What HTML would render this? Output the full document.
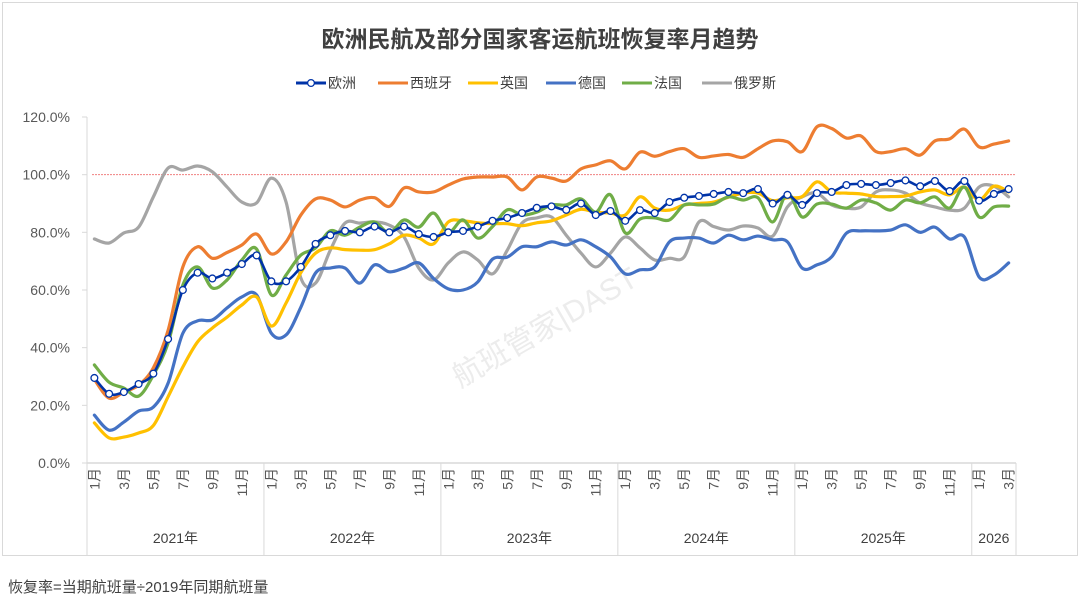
<!DOCTYPE html>
<html><head><meta charset="utf-8"><style>
body{margin:0;background:#fff;width:1080px;height:608px;overflow:hidden;font-family:"Liberation Sans","Noto Sans CJK SC",sans-serif}
svg text{font-family:"Liberation Sans","Noto Sans CJK SC",sans-serif}
</style></head><body>
<svg id="chart" width="1080" height="608" viewBox="0 0 1080 608">
<rect x="2.5" y="2.5" width="1075" height="553" fill="#fff" stroke="#d9d9d9"/>
<text x="540" y="47" text-anchor="middle" font-size="23" font-weight="bold" fill="#404040">欧洲民航及部分国家客运航班恢复率月趋势</text>
<g id="legend"></g>
<g id="axes"></g>
<text x="0" y="0" font-size="30" fill="#ececec" transform="translate(460,388) rotate(-30)">航班管家|DAST</text>
<g id="series"></g>
<text x="8" y="592" font-size="15" fill="#404040">恢复率=当期航班量÷2019年同期航班量</text>
</svg>
<script>
const years = ["2021年","2022年","2023年","2024年","2025年","2026"];
const monthsPerYear = [12,12,12,12,12,3];
const yTicks = [0,20,40,60,80,100,120];
const seriesNames = ["欧洲","西班牙","英国","德国","法国","俄罗斯"];
const europe = [29.5,24,24.6,27.4,31,43,60,66,64,66,69,72, 63,63,68,76,79,80.5,80,82,80,82,79.4,78.4, 80,80.5,82,84,85,86.7,88.5,89,87.8,90,86,87.4, 84,87.7,86.7,90.5,92,92.6,93.3,94,93.6,95,90,93, 89.5,93.6,94,96.4,96.8,96.4,97.1,98,96,97.8,94.3,97.8, 91,93.3,95];
const spain = [29,22.5,24.6,27,33,46,68,75,71,73,75.6,79.4, 72.5,76.7,86,91.6,91.2,88.8,91.2,92,89,95.4,94,94, 96.4,98.5,99.2,99.2,99.2,94.7,99.2,98.8,97.8,102,103.4,104.8, 102,107.8,106.4,108,109,106,106.5,107,106,109,111.7,111.4, 108,116.6,116,112.7,113.4,108,108,109,106.8,111.7,112.4,115.8, 109.6,110.6,111.7];
const uk = [13.9,8.7,9,10.4,13,23,33.3,42,46.8,50.6,54.8,57.6, 47.5,55.5,66,72.8,74.6,74,73.8,74,76,79,78,76, 83.6,84,83.3,83,83,82.3,83.3,84,86,88,87,86.7, 86,92.3,88.4,87.7,89.5,90,90.5,92.2,93.6,93.6,91,92, 92.4,97.5,94,93.6,93.3,92.4,92.4,92.6,94,94.7,93,95.7, 91.2,96,94];
const germany = [16.6,11.4,14.2,18,19.4,27.7,45,49.3,49.6,53.8,57.6,58.3, 45,44.4,54,65.9,67.6,67.6,62.4,68.7,66.3,67.6,69.4,64, 60.4,60,62.8,70.7,71.4,75,75,76.7,75.6,77.4,75,71.5, 65.6,67,68,76.7,78,78,76.3,79,77.4,78.7,77.4,76.7, 67.6,68.7,71.5,79.7,80.5,80.5,80.8,82.6,80,81.8,77.7,78.4, 64.5,65.2,69.4];
const france = [34,28,26,23.2,30.5,41.6,61.7,68,60.7,63.5,70.4,74.2, 58.3,65.2,72.1,74.6,80.5,79,81.8,83.6,79.8,84.3,81.8,86.7, 80,84.3,78,82,87.8,86,87,89.5,89.5,91.6,87,93, 79.8,84.6,85,84.3,89.5,89.5,89.8,92.3,91.2,92,83.6,93.6, 85.3,89.8,89.8,88.4,91.2,90.2,87.7,91.2,90.2,92.3,88.4,95.7, 85.3,88.8,89.1];
const russia = [77.7,76.3,79.8,81.8,92.3,102.3,101.6,103,101,95.7,90.5,90.2, 98.8,90.5,64.2,62.4,73.8,83.2,83.2,83.6,82.5,78.4,67.6,63.5, 69.4,73.2,70.4,65.6,73.8,83.2,85,85.3,79,72.8,68,72.8, 78.4,74.6,70.4,71,71.5,83.6,82,80.8,82.2,81.5,78.7,88.8, 92.3,93.6,89.5,88.4,88.8,94,94.7,93.6,90.2,88.8,87.7,88.4, 95.7,96,92.3];
const colors = ["#0033a8","#ed7d31","#ffc000","#4472c4","#70ad47","#a5a5a5"];
const slugs = ["europe","spain","uk","germany","france","russia"];
const allSeries = [europe,spain,uk,germany,france,russia];

const NS="http://www.w3.org/2000/svg";
const X0=87, X1=1016, Y0=463, Y120=117;
const nMonths = monthsPerYear.reduce((a,b)=>a+b,0);
const mw=(X1-X0)/nMonths;
const xs=i=>X0+mw*(i+0.5);
const ys=v=>Y0-(v/120)*(Y0-Y120);
function mk(tag,attrs,parent){const e=document.createElementNS(NS,tag);for(const k in attrs)e.setAttribute(k,attrs[k]);parent.appendChild(e);return e;}
const axes=document.getElementById('axes');
let yl=mk('line',{x1:X0,y1:Y120,x2:X0,y2:Y0,stroke:'#d9d9d9'},axes);


yTicks.forEach(v=>{
  const t=mk('line',{x1:X0-5,x2:X0,y1:ys(v),y2:ys(v),stroke:'#d9d9d9'},axes);
  
  
  const tx=mk('text',{x:70,y:ys(v)+5,'text-anchor':'end','font-size':14,fill:'#595959'},axes);
  tx.textContent=v.toFixed(1)+'%';
  
  
});
const ref=mk('line',{x1:X0+5,x2:X1,y1:ys(100),y2:ys(100),stroke:'#f08080','stroke-width':1,'stroke-dasharray':'2,1'},axes);


const xl=mk('line',{x1:X0,x2:X1,y1:Y0,y2:Y0,stroke:'#d9d9d9','stroke-width':1.5},axes);


let idx=0;
years.forEach((yr,yi)=>{
  const n=monthsPerYear[yi];
  const xa=X0+mw*idx, xb=X0+mw*(idx+n);
  const d=mk('line',{x1:xa,x2:xa,y1:Y0,y2:556,stroke:'#d9d9d9'},axes);
  
  
  for(let m=0;m<n;m+=2){
    const cx=xs(idx+m);
    const t=mk('text',{x:0,y:0,'font-size':14,fill:'#595959','text-anchor':'end',transform:`translate(${cx+5},468) rotate(-90)`},axes);
    t.textContent=(m+1)+'月';
    
    
  }
  const yt=mk('text',{x:(xa+xb)/2,y:543,'text-anchor':'middle','font-size':14,fill:'#404040'},axes);
  yt.textContent=yr;
  
  
  idx+=n;
});
const de=mk('line',{x1:X1,x2:X1,y1:Y0,y2:556,stroke:'#d9d9d9'},axes);



function smoothPath(pts){
  let d=`M${pts[0][0]},${pts[0][1]}`;
  for(let i=0;i<pts.length-1;i++){
    const p0=pts[i-1]||pts[i],p1=pts[i],p2=pts[i+1],p3=pts[i+2]||p2;
    const c1=[p1[0]+(p2[0]-p0[0])/6,p1[1]+(p2[1]-p0[1])/6];
    const c2=[p2[0]-(p3[0]-p1[0])/6,p2[1]-(p3[1]-p1[1])/6];
    d+=` C${c1[0]},${c1[1]} ${c2[0]},${c2[1]} ${p2[0]},${p2[1]}`;
  }
  return d;
}
const sg=document.getElementById('series');
const order=[5,3,2,1,4,0];
order.forEach(si=>{
  const data=allSeries[si];
  const pts=data.map((v,i)=>[xs(i),ys(v)]);
  const p=mk('path',{d:smoothPath(pts),fill:'none',stroke:colors[si],'stroke-width':si===0?2.6:3.2,'stroke-linejoin':'round','stroke-linecap':'round'},sg);
  
  
  if(si===0){
    pts.forEach(q=>{
      const c=mk('circle',{cx:q[0],cy:q[1],r:3.4,fill:'#fff',stroke:colors[0],'stroke-width':1.3},sg);
      
      
    });
  }
});
const lg=document.getElementById('legend');
const lx=[296,378,468,546,622,702];
seriesNames.forEach((nm,i)=>{
  const g=mk('g',{},lg);
  
  
  mk('line',{x1:lx[i],x2:lx[i]+30,y1:83,y2:83,stroke:colors[i],'stroke-width':3},g);
  if(i===0) mk('circle',{cx:lx[i]+15,cy:83,r:3.4,fill:'#fff',stroke:colors[0],'stroke-width':1.3},g);
  const t=mk('text',{x:lx[i]+32,y:88,'font-size':14,fill:'#404040'},g);
  t.textContent=nm;
});
</script>
</body></html>
